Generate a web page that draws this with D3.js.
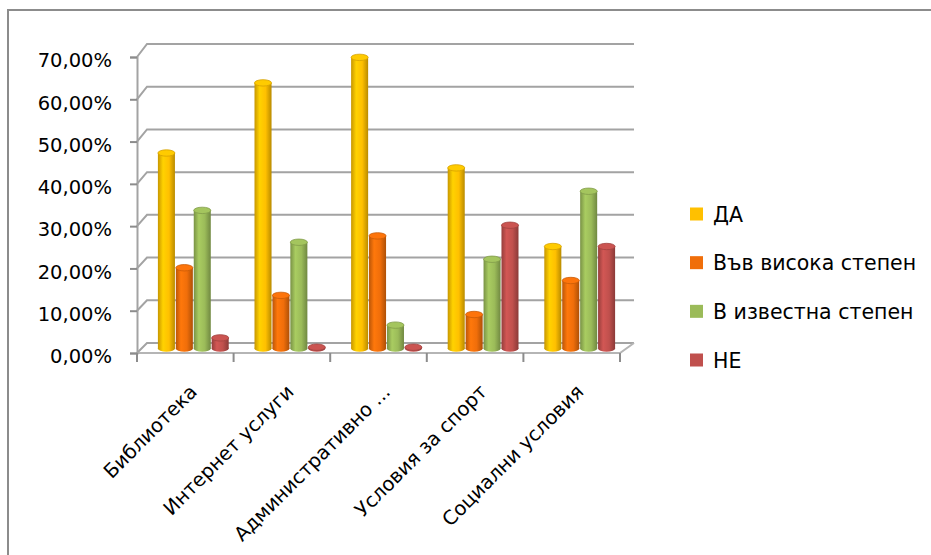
<!DOCTYPE html>
<html>
<head>
<meta charset="utf-8">
<script src="https://cdn.jsdelivr.net/npm/d3@7"></script>
<style>
  body { margin: 0; background: #fff; }
  svg text { font-family: "DejaVu Sans", sans-serif; fill: #000; }
</style>
</head>
<body>
<svg width="931" height="555"></svg>
<script>
// The data:
var categories = ['Библиотека', 'Интернет  услуги', 'Административно ...', 'Условия за спорт', 'Социални условия']
var seriesNames = ['ДА', 'Във висока степен', 'В известна степен', 'НЕ']
var seriesColors = ['#FFC000', '#F06E0A', '#9BBB59', '#C0504D']
var daValues = [46, 62.5, 68.5, 42.5, 24]
var highValues = [19, 12.5, 26.5, 8, 16]
var someValues = [32.5, 25, 5.5, 21, 37]
var noValues = [2.5, 0.3, 0.3, 29, 24]
var yTicks = [0, 10, 20, 30, 40, 50, 60, 70]

var allValues = [daValues, highValues, someValues, noValues]

var svg = d3.select('svg')

// chart border (top and left only, rest is cropped)
svg.append('path')
  .attr('d', 'M8,555V10H931')
  .attr('fill', 'none')
  .attr('stroke', '#8c8c8c')
  .attr('stroke-width', 2)

// Scales: front plane, back plane and bar mid depth
var depthX = 10
let yFront = d3.scaleLinear().domain([0, 70]).range([353, 57])
let yBack = d3.scaleLinear().domain([0, 70]).range([343, 44])
let yBar = d3.scaleLinear().domain([0, 70]).range([348.5, 51])
let x0 = d3.scaleBand().domain(categories).range([137, 620])
let x1 = d3.scaleBand().domain(seriesNames).range([0, x0.bandwidth()])
  .paddingInner(0.05).paddingOuter(0.72)

// Gridlines with the little diagonal to the back wall
svg.append('g').selectAll('path')
  .data(yTicks)
  .enter()
  .append('path')
  .attr('d', (d) => 'M' + x0.range()[0] + ',' + yFront(d) + 'L' + (x0.range()[0] + depthX) + ',' + yBack(d) +
    'H' + (x0.range()[1] + 14))
  .attr('fill', 'none')
  .attr('stroke', '#a3a3a3')
  .attr('stroke-width', 2)

// Floor front edge and right diagonal
svg.append('path')
  .attr('d', 'M' + x0.range()[0] + ',' + yFront(0) + 'H' + x0.range()[1] + 'L' + (x0.range()[1] + 14) + ',' + yBack(0))
  .attr('fill', 'none')
  .attr('stroke', '#b5b5b5')
  .attr('stroke-width', 2)

// Y axis
let yAxis = d3.axisLeft().scale(yFront)
  .tickValues(yTicks)
  .tickSize(7)
  .tickPadding(18)
  .tickFormat((d) => d.toFixed(2).replace('.', ',') + '%')

let yAxisG = svg.append('g').attr('id', 'yAxisG')
  .attr('transform', 'translate(' + x0.range()[0] + ',0)')
  .call(yAxis)
yAxisG.select('.domain').attr('stroke', '#a3a3a3').attr('stroke-width', 2)
yAxisG.selectAll('.tick line').attr('stroke', '#8c8c8c').attr('stroke-width', 2)
yAxisG.selectAll('.tick text')
  .attr('font-size', 19.5)
  .attr('font-family', '"DejaVu Sans", sans-serif')
  .attr('dy', '0.5em')
  .attr('fill', '#000')

// X axis ticks at category boundaries
var boundaries = categories.map((c) => x0(c)).concat([x0.range()[1]])
svg.append('g').selectAll('line')
  .data(boundaries)
  .enter()
  .append('line')
  .attr('x1', (d) => d).attr('x2', (d) => d)
  .attr('y1', yFront(0)).attr('y2', yFront(0) + 9)
  .attr('stroke', '#8c8c8c')
  .attr('stroke-width', 2)

// Category labels rotated
svg.append('g').selectAll('text')
  .data(categories)
  .enter()
  .append('text')
  .attr('transform', (d) => 'translate(' + (x0(d) + x0.bandwidth() / 2 + 13) + ',393) rotate(-45)')
  .attr('text-anchor', 'end')
  .attr('font-size', 19.5)
  .text((d) => d)

// Cylinder gradients
var defs = svg.append('defs')
seriesColors.forEach((c, i) => {
  let g = defs.append('linearGradient').attr('id', 'cyl' + i)
  let base = d3.color(c)
  g.append('stop').attr('offset', '0%').attr('stop-color', base.darker(0.7))
  g.append('stop').attr('offset', '30%').attr('stop-color', base.brighter(0.25))
  g.append('stop').attr('offset', '65%').attr('stop-color', base)
  g.append('stop').attr('offset', '100%').attr('stop-color', base.darker(0.9))
})

// Bars as cylinders
var barData = []
categories.forEach((cat, ci) => {
  seriesNames.forEach((s, si) => {
    barData.push({ cat: cat, series: s, si: si, value: allValues[si][ci] })
  })
})

var barW = x1.bandwidth()
var ry = 3.2
let bars = svg.append('g').selectAll('g')
  .data(barData)
  .enter()
  .append('g')
  .attr('transform', (d) => 'translate(' + (x0(d.cat) + 8 + x1(d.series)) + ',0)')

bars.append('ellipse')
  .attr('cx', barW / 2).attr('cy', yBar(0))
  .attr('rx', barW / 2).attr('ry', ry)
  .attr('fill', (d) => 'url(#cyl' + d.si + ')')

bars.append('rect')
  .attr('x', 0)
  .attr('y', (d) => yBar(d.value))
  .attr('width', barW)
  .attr('height', (d) => yBar(0) - yBar(d.value))
  .attr('fill', (d) => 'url(#cyl' + d.si + ')')

bars.append('ellipse')
  .attr('cx', barW / 2).attr('cy', (d) => yBar(d.value))
  .attr('rx', barW / 2).attr('ry', ry)
  .attr('fill', (d) => d3.color(seriesColors[d.si]).brighter(0.15))
  .attr('stroke', (d) => d3.color(seriesColors[d.si]).darker(0.5))
  .attr('stroke-width', 0.8)

// Legend
var legendY = d3.scaleLinear().domain([0, 3]).range([214, 360])
let legend = svg.append('g').selectAll('g')
  .data(seriesNames)
  .enter()
  .append('g')
  .attr('transform', (d, i) => 'translate(690,' + legendY(i) + ')')

legend.append('rect')
  .attr('x', 0).attr('y', -6.5)
  .attr('width', 13).attr('height', 13)
  .attr('fill', (d, i) => seriesColors[i])

legend.append('text')
  .attr('x', 23).attr('y', 0)
  .attr('dy', '0.38em')
  .attr('font-size', 20.5)
  .text((d) => d)
</script>
</body>
</html>
